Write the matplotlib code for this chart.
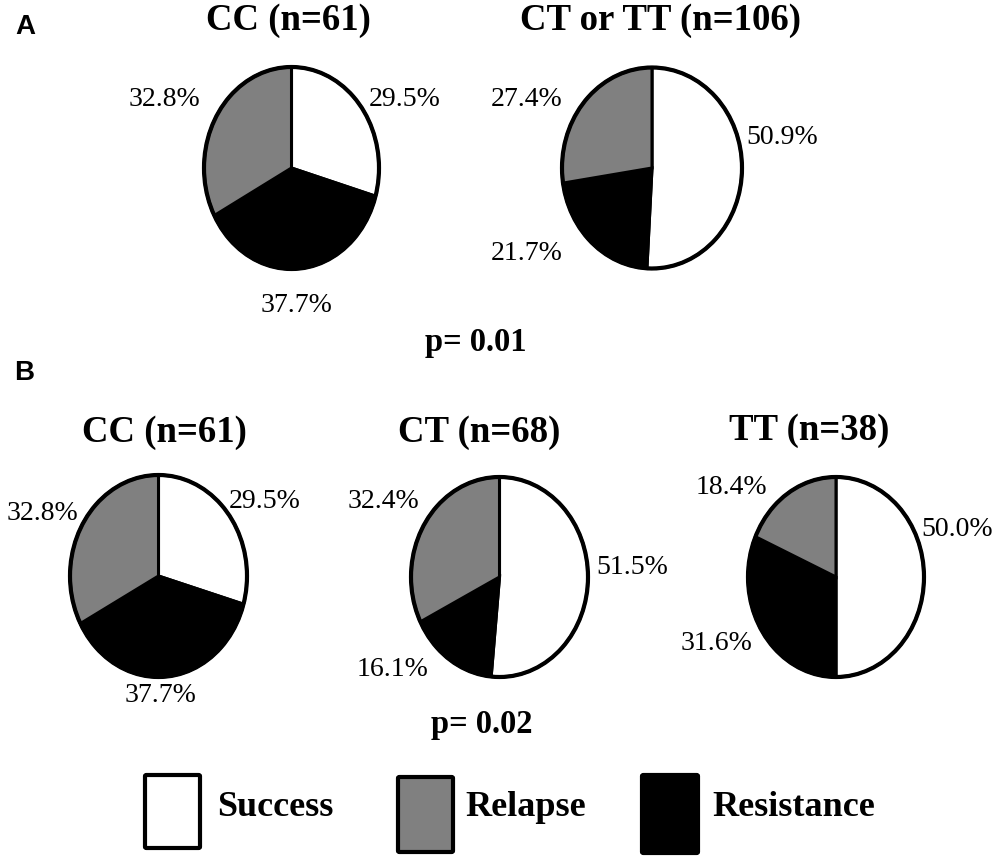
import matplotlib
matplotlib.use('Agg')
import matplotlib.pyplot as plt
import matplotlib.patches as mpatches

# data (percent), slices go clockwise from 12 o'clock: success, resistance, relapse
groups_a = ['CC (n=61)', 'CT or TT (n=106)']
success_a = [29.5, 50.9]
resistance_a = [37.7, 21.7]
relapse_a = [32.8, 27.4]

groups_b = ['CC (n=61)', 'CT (n=68)', 'TT (n=38)']
success_b = [29.5, 51.5, 50.0]
resistance_b = [37.7, 16.1, 31.6]
relapse_b = [32.8, 32.4, 18.4]

p_values = ['p= 0.01', 'p= 0.02']
legend_labels = ['Success', 'Relapse', 'Resistance']
slice_colors = ['white', 'black', '#808080']   # success, resistance, relapse

W, H = 1000, 859
fig = plt.figure(figsize=(W / 100, H / 100), dpi=100)
serif = 'Liberation Serif'

# layout in pixels: pie centre x, y, width, height
pie_boxes = [(291.5, 168, 175, 202), (652, 168, 180, 201),
             (158.5, 576, 177, 202), (499.5, 577, 177, 200), (836, 577, 176, 200)]
title_pos = [(288, 20), (661, 20), (164, 432), (479, 433), (809, 430)]
# label positions for success, resistance, relapse
label_pos = [
    [(405, 99), (297, 305), (164, 99)],
    [(782, 137), (527, 253), (527, 99)],
    [(265, 502), (160, 696), (42, 513)],
    [(632, 567), (393, 670), (383, 501)],
    [(957, 530), (716, 644), (731, 488)],
]


def fx(x):
    return x / W


def fy(y):
    return 1 - y / H


titles = groups_a + groups_b
succ = success_a + success_b
res = resistance_a + resistance_b
rel = relapse_a + relapse_b

pad = 1.04
for i, (cx, cy, w, h) in enumerate(pie_boxes):
    ww, hh = w * pad, h * pad
    ax = fig.add_axes([fx(cx - ww / 2), fy(cy + hh / 2), ww / W, hh / H])
    vals = [succ[i], res[i], rel[i]]
    ax.pie(vals, colors=slice_colors, startangle=90, counterclock=False,
           wedgeprops=dict(edgecolor='black', linewidth=2.2))
    ax.add_patch(mpatches.Circle((0, 0), 1, fill=False, edgecolor='black', linewidth=3))
    ax.set_aspect('auto')
    ax.set_xlim(-pad, pad)
    ax.set_ylim(-pad, pad)
    ax.axis('off')

    fig.text(fx(title_pos[i][0]), fy(title_pos[i][1]), titles[i], family=serif,
             fontweight='bold', fontsize=26.5, ha='center', va='center')
    for v, (lx, ly) in zip(vals, label_pos[i]):
        fig.text(fx(lx), fy(ly), f'{v:.1f}%', family=serif, fontsize=20,
                 ha='center', va='center')

# p values
fig.text(fx(476), fy(342), p_values[0], family=serif, fontweight='bold',
         fontsize=23.5, ha='center', va='center')
fig.text(fx(482), fy(725), p_values[1], family=serif, fontweight='bold',
         fontsize=23.5, ha='center', va='center')

# panel letters
fig.text(fx(25), fy(27), 'A', family='Liberation Sans', fontweight='bold',
         fontsize=20, ha='center', va='center')
fig.text(fx(24), fy(373), 'B', family='Liberation Sans', fontweight='bold',
         fontsize=20, ha='center', va='center')

# legend
leg_boxes = [(145, 775, 55, 73), (398, 777, 55, 75), (642, 775, 56, 78)]
leg_colors = ['white', '#808080', 'black']
leg_text_x = [217, 465, 712]
for (bx, by, bw, bh), c, tx, lab in zip(leg_boxes, leg_colors, leg_text_x, legend_labels):
    r = mpatches.FancyBboxPatch((fx(bx), fy(by + bh)), bw / W, bh / H,
                                boxstyle='round,pad=0,rounding_size=0.0015',
                                transform=fig.transFigure, facecolor=c,
                                edgecolor='black', linewidth=3)
    fig.patches.append(r)
    fig.text(fx(tx), fy(807), lab, family=serif, fontweight='bold',
             fontsize=26, ha='left', va='center')

fig.savefig('out.png', dpi=100)
